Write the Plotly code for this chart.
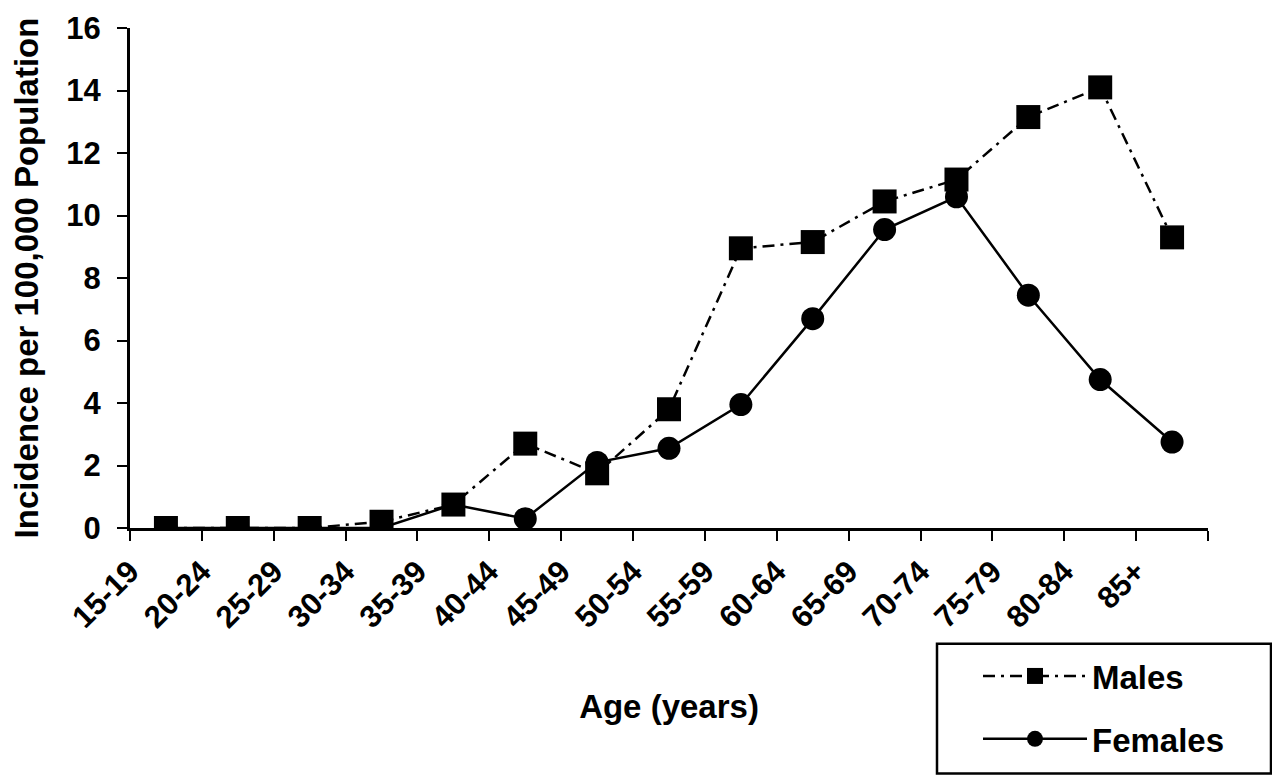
import plotly.graph_objects as go

ages = ["15-19", "20-24", "25-29", "30-34", "35-39", "40-44", "45-49", "50-54",
        "55-59", "60-64", "65-69", "70-74", "75-79", "80-84", "85+"]
males = [0.0, 0.0, 0.0, 0.2, 0.75, 2.7, 1.75, 3.8, 8.95, 9.15, 10.45, 11.15, 13.15, 14.1, 9.3]
females = [0.0, 0.0, 0.0, 0.0, 0.75, 0.3, 2.1, 2.55, 3.95, 6.7, 9.55, 10.6, 7.45, 4.75, 2.75]
y_ticks = [0, 2, 4, 6, 8, 10, 12, 14, 16]

FONT = "Liberation Sans, Arial, sans-serif"
xpos = list(range(len(ages)))

fig = go.Figure()
fig.add_trace(go.Scatter(
    x=xpos, y=males, name="Males", mode="lines+markers", legendgroup="m",
    line=dict(color="black", width=2.5, dash="12px,6px,3px,6px"),
    marker=dict(symbol="square", size=24, color="black"),
))
fig.add_trace(go.Scatter(
    x=xpos, y=females, name="Females", mode="lines+markers", legendgroup="f",
    line=dict(color="black", width=2.5),
    marker=dict(symbol="circle", size=23, color="black"),
))

tickvals = [i - 0.5 for i in range(len(ages) + 1)]
ticktext = ages + [""]

# plot area: 1078 x 501 px (l=122, t=20 within a 1264x770 figure)
PW, PH = 1078.0, 501.0
def px(xp):  # page x -> paper
    return (xp - 8 - 122) / PW
def py(yp):  # page y -> paper
    return (8 + 20 + PH - yp) / PH

# legend frame (decoration)
fig.add_shape(type="rect", xref="paper", yref="paper",
              x0=px(937), x1=px(1271), y0=py(775), y1=py(645),
              line=dict(color="black", width=2.5), fillcolor="rgba(0,0,0,0)")

fig.update_layout(
    width=1264, height=770,
    paper_bgcolor="white", plot_bgcolor="white",
    margin=dict(l=122, r=64, t=20, b=249),
    font=dict(family=FONT, size=32, color="black", weight="bold"),
    showlegend=True,
    legend=dict(
        x=px(978), y=py(648), xanchor="left", yanchor="top",
        bgcolor="rgba(0,0,0,0)", borderwidth=0,
        font=dict(family=FONT, size=33, color="black", weight="bold"),
        itemwidth=104, tracegroupgap=17, traceorder="grouped",
    ),
    xaxis=dict(
        range=[-0.5, 14.5], tickmode="array", tickvals=tickvals, ticktext=ticktext,
        tickangle=-45, ticks="outside", ticklen=10, tickwidth=2, tickcolor="black",
        showline=True, linecolor="black", linewidth=3, showgrid=False, zeroline=False,
        automargin=False, ticklabeloverflow="allow",
        tickfont=dict(family=FONT, size=31, color="black", weight="bold"),
        title=dict(text="Age (years)", font=dict(family=FONT, size=33, weight="bold"), standoff=62),
    ),
    yaxis=dict(
        range=[0, 16], tickmode="array", tickvals=y_ticks,
        ticks="outside", ticklen=10, tickwidth=2, tickcolor="black",
        showline=True, linecolor="black", linewidth=3, showgrid=False, zeroline=False,
        automargin=False, ticklabeloverflow="allow",
        tickfont=dict(family=FONT, size=31, color="black", weight="bold"),
        ticklabelstandoff=10,
        title=dict(text="Incidence per 100,000 Population", font=dict(family=FONT, size=33, weight="bold"), standoff=28),
    ),
)

fig.write_html("out.html")
